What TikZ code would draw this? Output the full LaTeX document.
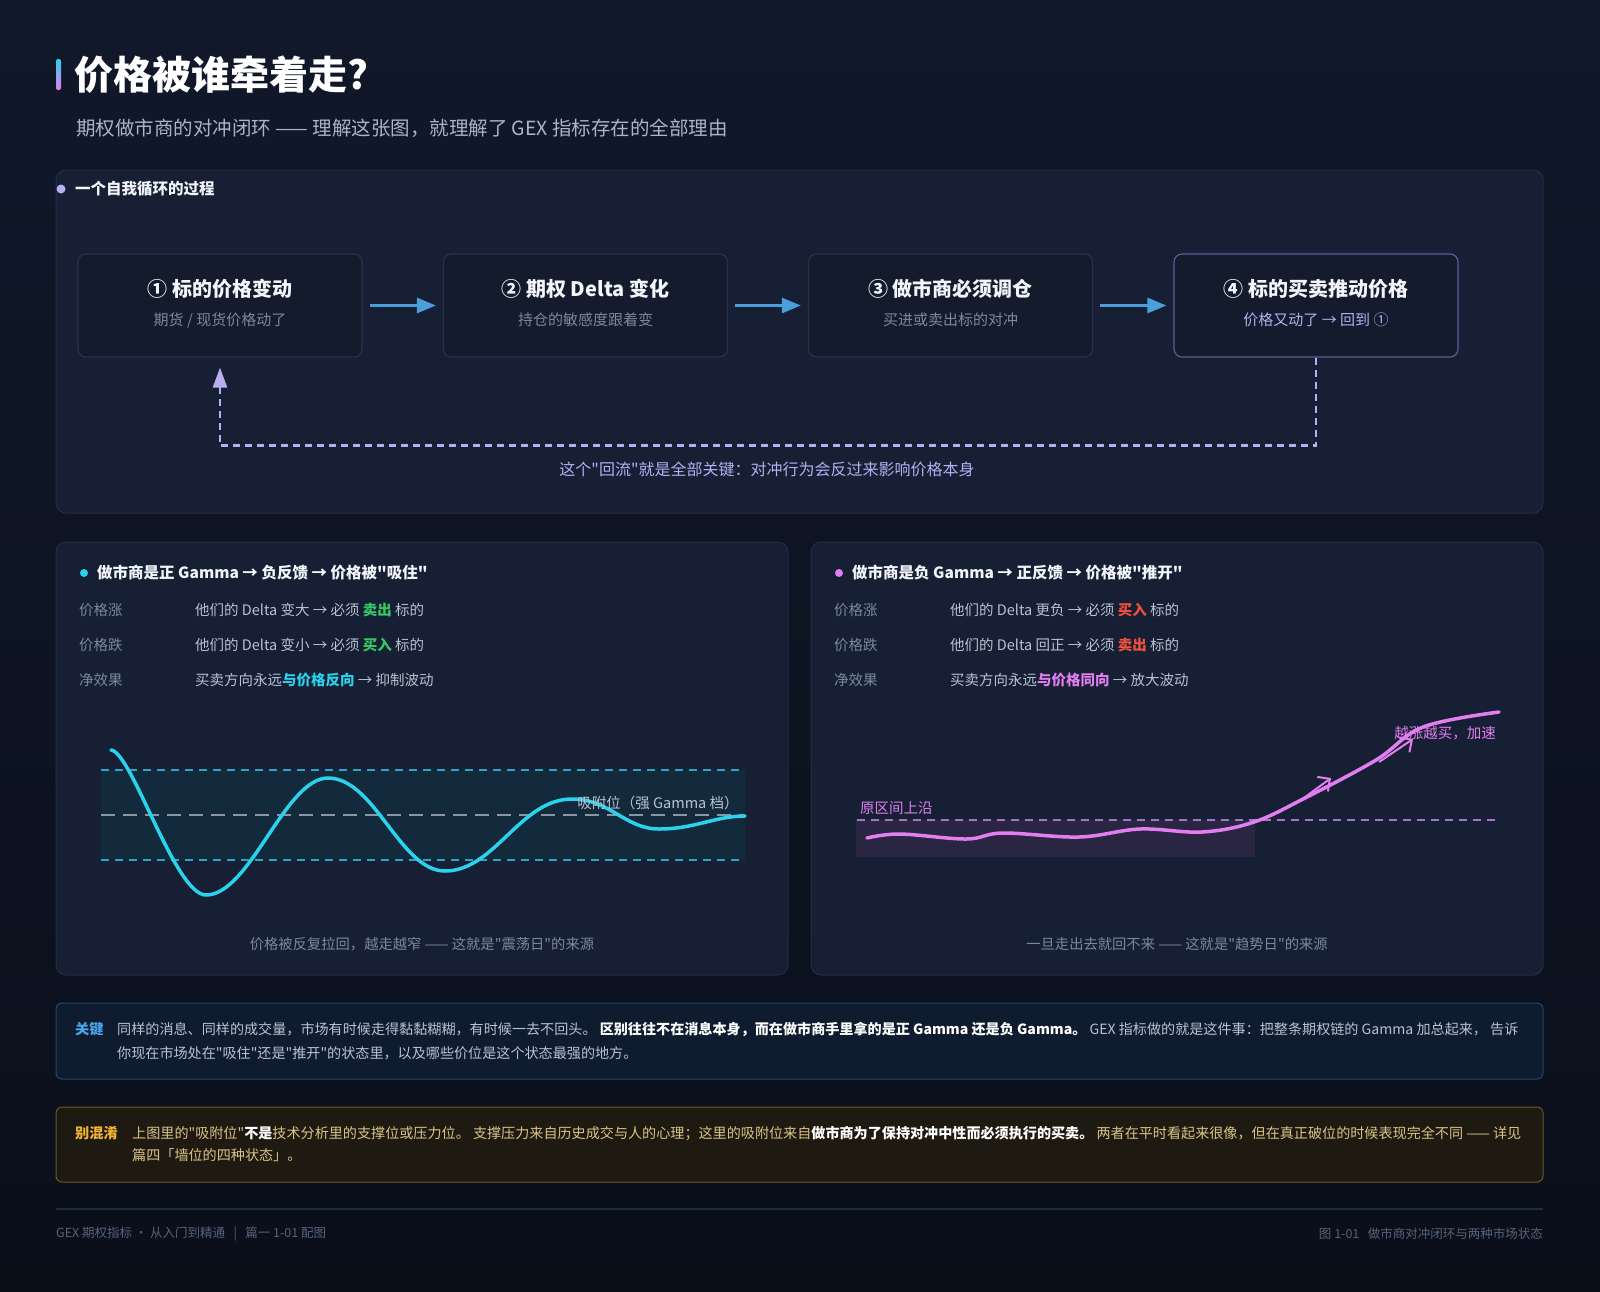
\documentclass[tikz,border=0pt]{standalone}
\usepackage{fontspec}
\setmainfont{Noto Sans CJK SC}[Ligatures=TeXOff]
\usetikzlibrary{calc, arrows.meta, positioning}

\definecolor{bgtop}{HTML}{10182A}
\definecolor{bgbot}{HTML}{0A0F1A}
\definecolor{panelfill}{HTML}{161F33}
\definecolor{panelline}{HTML}{232D45}
\definecolor{boxfill}{HTML}{131B2D}
\definecolor{boxline}{HTML}{273149}
\definecolor{boxfour}{HTML}{5E5C96}
\definecolor{txtmain}{HTML}{F2F5FA}
\definecolor{txtsub}{HTML}{7C889C}
\definecolor{txtbody}{HTML}{B8C2D2}
\definecolor{subtitle}{HTML}{A9B5C7}
\definecolor{flowblue}{HTML}{4A9FDA}
\definecolor{loopviolet}{HTML}{B8AEF2}
\definecolor{gammacyan}{HTML}{2AD2EC}
\definecolor{gammapink}{HTML}{E27EF0}
\definecolor{buygreen}{HTML}{34C964}
\definecolor{sellred}{HTML}{F2503C}
\definecolor{bandfill}{HTML}{132A3D}
\definecolor{bandline}{HTML}{2AA6C8}
\definecolor{midgray}{HTML}{8C95A5}
\definecolor{rangefill}{HTML}{2A2543}
\definecolor{rangeline}{HTML}{A576C8}
\definecolor{keyfill}{HTML}{0F1B2E}
\definecolor{keyline}{HTML}{24496C}
\definecolor{keyblue}{HTML}{4AA6EA}
\definecolor{warnfill}{HTML}{1E1A12}
\definecolor{warnline}{HTML}{6A5826}
\definecolor{warngold}{HTML}{F2B233}
\definecolor{warntext}{HTML}{D9C486}
\definecolor{footline}{HTML}{1F2A3F}
\definecolor{foottext}{HTML}{55637A}

\newcommand{\pxfont}[1]{\fontsize{#1}{#1}\selectfont}

\begin{document}
\begin{tikzpicture}[x=1pt, y=-1pt,
  panel/.style={draw=panelline, line width=1pt, fill=panelfill, rounded corners=10pt},
  stepbox/.style={draw=boxline, line width=1.2pt, fill=boxfill, rounded corners=8pt,
    minimum width=284pt, minimum height=103pt, align=center, inner sep=0pt},
  steptitle/.style={font=\pxfont{20}\bfseries, text=txtmain},
  flowarrow/.style={draw=flowblue, line width=3pt, -{Triangle[length=19pt, width=15pt]},
    shorten <=7pt, shorten >=7pt},
  loopline/.style={draw=loopviolet, line width=2.5pt, dash pattern=on 7pt off 5pt,
    -{Triangle[length=20pt, width=14pt, fill=loopviolet]}, shorten >=10pt},
  rowlabel/.style={anchor=west, font=\pxfont{14.5}, text=txtsub, inner sep=0pt},
  rowtext/.style={anchor=west, font=\pxfont{14.5}, text=txtbody, inner sep=0pt},
  header/.style={anchor=west, font=\pxfont{15.5}\bfseries, text=txtmain, inner sep=0pt},
  caption/.style={font=\pxfont{15}, text=txtsub, inner sep=0pt},
  note/.style={anchor=west, font=\pxfont{14.1}, inner sep=0pt}]

\useasboundingbox (0,0) rectangle (1600,1291);

% Draw the background
\shade[top color=bgtop, bottom color=bgbot] (0,0) rectangle (1600,1291);

% Title and subtitle
\shade[top color=gammacyan, bottom color=gammapink, rounded corners=2pt] (56,59) rectangle (61,90);
\node[anchor=west, font=\pxfont{39}\bfseries, text=white, inner sep=0pt] (title) at (74,75) {价格被谁牵着走?};
\node[anchor=west, font=\pxfont{19.5}, text=subtitle, inner sep=0pt] (subtitle) at (76,128)
  {期权做市商的对冲闭环 —— 理解这张图，就理解了 GEX 指标存在的全部理由};

% Draw the loop panel
\draw[panel] (56,170) rectangle (1543,513);
\fill[loopviolet] (61,189) circle (4.5);
\node[header] (looptitle) at (75,189) {一个自我循环的过程};

\node[stepbox] (s1) at (220,305.5) {};
\node[stepbox] (s2) at (585.5,305.5) {};
\node[stepbox] (s3) at (950.5,305.5) {};
\node[stepbox, draw=boxfour] (s4) at (1316,305.5) {};

\node[steptitle] (t1) at (220,289) {① 标的价格变动};
\node[steptitle] (t2) at (585.5,289) {② 期权 Delta 变化};
\node[steptitle] (t3) at (950.5,289) {③ 做市商必须调仓};
\node[steptitle] (t4) at (1316,289) {④ 标的买卖推动价格};
\node[caption] (d1) at (220,320) {期货 / 现货价格动了};
\node[caption] (d2) at (585.5,320) {持仓的敏感度跟着变};
\node[caption] (d3) at (950.5,320) {买进或卖出标的对冲};
\node[caption, text=loopviolet] (d4) at (1316,320) {价格又动了 → 回到 ①};

% Arrows between the steps
\draw[flowarrow] (s1.east) -- (s2.west);
\draw[flowarrow] (s2.east) -- (s3.west);
\draw[flowarrow] (s3.east) -- (s4.west);

% The feedback loop
\draw[loopline] (s4.south) -- ++(0,88) -| (s1.south);
\node[caption, font=\pxfont{16}, text=loopviolet] (loopnote) at (767,469) {这个"回流"就是全部关键：对冲行为会反过来影响价格本身};

% Left panel: positive gamma
\draw[panel] (56,542) rectangle (788,975);
\fill[gammacyan] (84,573) circle (4);
\node[header] (lhead) at (97,573) {做市商是正 Gamma → 负反馈 → 价格被"吸住"};
\node[rowlabel] (la) at (79,610) {价格涨};
\node[rowlabel] (lb) at (79,645) {价格跌};
\node[rowlabel] (lc) at (79,680) {净效果};
\node[rowtext] (ra) at (195,610) {他们的 Delta 变大 → 必须 \textbf{\textcolor{buygreen}{卖出}} 标的};
\node[rowtext] (rb) at (195,645) {他们的 Delta 变小 → 必须 \textbf{\textcolor{buygreen}{买入}} 标的};
\node[rowtext] (rc) at (195,680) {买卖方向永远\textbf{\textcolor{gammacyan}{与价格反向}} → 抑制波动};

\fill[bandfill] (101,770) rectangle (745,860);
\draw[bandline, line width=2pt, dash pattern=on 8pt off 6pt] (101,770) -- (745,770);
\draw[bandline, line width=2pt, dash pattern=on 8pt off 6pt] (101,860) -- (745,860);
\draw[midgray, line width=2pt, dash pattern=on 14pt off 8pt] (101,815) -- (745,815);
\draw[gammacyan, line width=3.5pt, line cap=round]
  (111,750) .. controls (132,752) and (175,895) .. (206,895)
  .. controls (250,895) and (285,778) .. (328,778)
  .. controls (375,778) and (400,871) .. (445,871)
  .. controls (495,871) and (520,799) .. (572,799)
  .. controls (610,799) and (625,829) .. (659,829)
  .. controls (695,829) and (715,816) .. (745,816);
\node[font=\pxfont{14.5}, text=txtbody, inner sep=0pt] (pin) at (658,803) {吸附位（强 Gamma 档）};
\node[caption, font=\pxfont{14.3}] (lnote) at (422,944) {价格被反复拉回，越走越窄 —— 这就是"震荡日"的来源};

% Right panel: negative gamma
\draw[panel] (811,542) rectangle (1543,975);
\fill[gammapink] (839,573) circle (4);
\node[header] (rhead) at (852,573) {做市商是负 Gamma → 正反馈 → 价格被"推开"};
\node[rowlabel] (lx) at (834,610) {价格涨};
\node[rowlabel] (ly) at (834,645) {价格跌};
\node[rowlabel] (lz) at (834,680) {净效果};
\node[rowtext] (rx) at (950,610) {他们的 Delta 更负 → 必须 \textbf{\textcolor{sellred}{买入}} 标的};
\node[rowtext] (ry) at (950,645) {他们的 Delta 回正 → 必须 \textbf{\textcolor{sellred}{卖出}} 标的};
\node[rowtext] (rz) at (950,680) {买卖方向永远\textbf{\textcolor{gammapink}{与价格同向}} → 放大波动};

\fill[rangefill] (856,820) rectangle (1255,857);
\draw[rangeline, line width=1.8pt, dash pattern=on 8pt off 6pt] (857,820) -- (1499,820);
\node[anchor=west, font=\pxfont{14.5}, text=gammapink, inner sep=0pt] (edge) at (860,808) {原区间上沿};
\draw[gammapink, line width=3.5pt, line cap=round] plot[smooth, tension=0.6] coordinates {
  (867,838) (900,834) (966,839) (1003,833) (1079,837) (1140,829)
  (1202,832) (1254,822) (1305,798) (1376,760) (1423,727) (1499,712)};
\coordinate (ua) at (1301,800);
\coordinate (ub) at (1331,778);
\coordinate (uc) at (1379,762);
\coordinate (ud) at (1413,739);
\draw[gammapink, line width=2pt, -{Straight Barb[length=9pt, width=18pt]}] (ua) -- (ub);
\draw[gammapink, line width=2pt, -{Straight Barb[length=9pt, width=18pt]}] (uc) -- (ud);
\node[font=\pxfont{14.5}, text=gammapink, inner sep=0pt] (speed) at (1445,733) {越涨越买，加速};
\node[caption, font=\pxfont{14.3}] (rnote) at (1177,944) {一旦走出去就回不来 —— 这就是"趋势日"的来源};

% Key note
\draw[draw=keyline, fill=keyfill, line width=1pt, rounded corners=6pt] (56,1003) rectangle (1543,1079);
\node[note, font=\pxfont{14.2}\bfseries, text=keyblue] (key) at (75,1029) {关键};
\node[note, text=txtbody] (k1) at (117,1029) {同样的消息、同样的成交量，市场有时候走得黏黏糊糊，有时候一去不回头。 \textbf{\textcolor{white}{区别往往不在消息本身，而在做市商手里拿的是正 Gamma 还是负 Gamma。}} GEX 指标做的就是这件事：把整条期权链的 Gamma 加总起来， 告诉};
\node[note, text=txtbody] (k2) at (117,1053) {你现在市场处在"吸住"还是"推开"的状态里，以及哪些价位是这个状态最强的地方。};

% Warning note
\draw[draw=warnline, fill=warnfill, line width=1pt, rounded corners=6pt] (56,1107) rectangle (1543,1182);
\node[note, font=\pxfont{14.2}\bfseries, text=warngold] (warn) at (75,1133) {别混淆};
\node[note, font=\pxfont{14.1}, text=warntext] (w1) at (132,1133) {上图里的"吸附位"\textbf{\textcolor{white}{不是}}技术分析里的支撑位或压力位。 支撑压力来自历史成交与人的心理；这里的吸附位来自\textbf{\textcolor{white}{做市商为了保持对冲中性而必须执行的买卖。}} 两者在平时看起来很像，但在真正破位的时候表现完全不同 —— 详见};
\node[note, font=\pxfont{14.1}, text=warntext] (w2) at (132,1155) {篇四「墙位的四种状态」。};

% Footer
\draw[footline, line width=1.5pt] (56,1209) -- (1543,1209);
\node[anchor=west, font=\pxfont{12.5}, text=foottext, inner sep=0pt] (fl) at (56,1234) {GEX 期权指标 · 从入门到精通 \ \ | \ \ 篇一 1-01 配图};
\node[anchor=east, font=\pxfont{12.5}, text=foottext, inner sep=0pt] (fr) at (1543,1234) {图 1-01 \ \ 做市商对冲闭环与两种市场状态};

\end{tikzpicture}
\end{document}
